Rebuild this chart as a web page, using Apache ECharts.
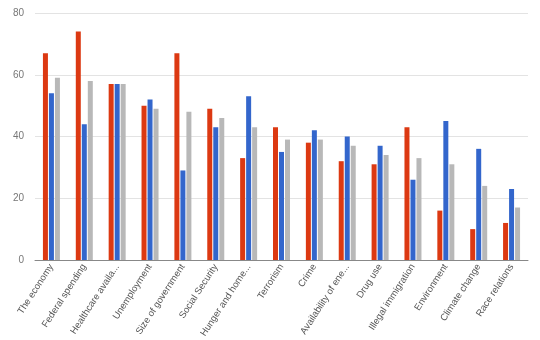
<!DOCTYPE html>
<html><head><meta charset="utf-8">
<script src="https://cdn.jsdelivr.net/npm/echarts@6/dist/echarts.min.js"></script>
<style>html,body{margin:0;padding:0;background:#fff}#c{width:540px;height:340px}</style>
</head><body><div id="c"></div>
<script>
const categories = ["The economy","Federal spending","Healthcare availa...","Unemployment","Size of government","Social Security","Hunger and home...","Terrorism","Crime","Availability of ene...","Drug use","Illegal immigration","Environment","Climate change","Race relations"];
const seriesRed  = [67,74,57,50,67,49,33,43,38,32,31,43,16,10,12];
const seriesBlue = [54,44,57,52,29,43,53,35,42,40,37,26,45,36,23];
const seriesGray = [59,58,57,49,48,46,43,39,39,37,34,33,31,24,17];
const yTicks = [0,20,40,60,80];

const chart = echarts.init(document.getElementById('c'));
const mk = (d, c) => ({type:'bar', data:d, barWidth:5, barGap:'20%', itemStyle:{color:c}, animation:false});
chart.setOption({
  animation:false,
  grid:{left:35,right:12,top:13,bottom:80,containLabel:false,outerBoundsMode:'none'},
  xAxis:{type:'category',data:categories,
    axisLine:{lineStyle:{color:'#888',width:1}},axisTick:{show:false},
    axisLabel:{rotate:57,interval:0,color:'#555',fontSize:9.5,fontFamily:'Arial, Liberation Sans, sans-serif',margin:5}},
  yAxis:{type:'value',min:yTicks[0],max:yTicks[yTicks.length-1],interval:20,
    axisLine:{show:false},axisTick:{show:false},
    splitLine:{lineStyle:{color:'#e3e3e3'}},
    axisLabel:{color:'#777',fontSize:10,fontFamily:'Arial, Liberation Sans, sans-serif',margin:11}},
  series:[mk(seriesRed,'#dc3912'),mk(seriesBlue,'#3366cc'),mk(seriesGray,'#b8b8b8')]
});
</script></body></html>
